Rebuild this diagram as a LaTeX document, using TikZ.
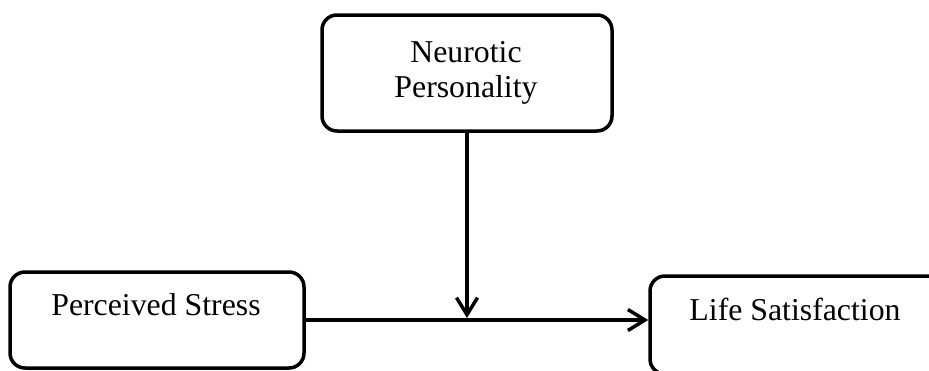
\documentclass[tikz,border=0pt]{standalone}
\usepackage{fontspec}
\setmainfont{Liberation Serif}
\usetikzlibrary{arrows.meta}
\begin{document}
\begin{tikzpicture}[x=1pt,y=-1pt,
  box/.style={draw=black, line width=3.5pt, rounded corners=15pt, inner sep=0pt},
  txt/.style={inner sep=0pt, anchor=base, font=\fontsize{31.8}{36}\selectfont},
  conn/.style={draw=black, line width=3.5pt, -{Straight Barb[length=17pt, width=21pt]}}]
\useasboundingbox (0,0) rectangle (929,370);
\clip (0,0) rectangle (929,370);
\node[box, minimum width=290pt, minimum height=116pt] (np) at (467,73) {};
\node[box, minimum width=294pt, minimum height=96pt] (ps) at (157,320) {};
\node[box, minimum width=292pt, minimum height=98pt] (ls) at (796,325) {};
\node[txt] (npa) at (466,62) {Neurotic};
\node[txt] (npb) at (466,97) {Personality};
\node[txt] (pst) at (156,315) {Perceived Stress};
\node[txt] (lst) at (795,320) {Life Satisfaction};
\coordinate (j) at (467,318);
\draw[conn] (ps.east) -- (ps.east -| ls.west);
\draw[conn] (np.south) -- (j);
\end{tikzpicture}
\end{document}
